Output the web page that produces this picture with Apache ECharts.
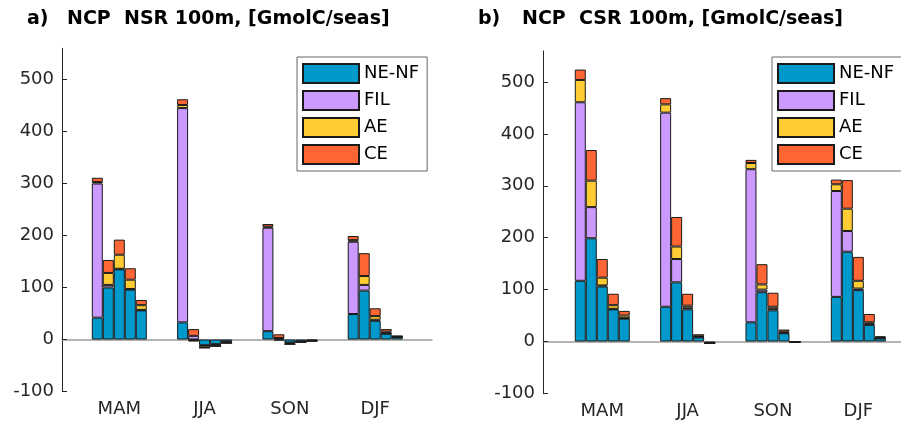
<!DOCTYPE html>
<html>
<head>
<meta charset="utf-8">
<script src="https://cdn.jsdelivr.net/npm/echarts@6/dist/echarts.min.js"></script>
<style>
html,body{margin:0;padding:0;background:#fff;}
#chart{width:901px;height:424px;}
</style>
</head>
<body>
<div id="chart"></div>
<script>
// ---- data ----
const seasons = ['MAM', 'JJA', 'SON', 'DJF'];
const components = ['NE-NF', 'FIL', 'AE', 'CE'];
const yTicks = [-100, 0, 100, 200, 300, 400, 500];
const titleA = 'NCP  NSR 100m, [GmolC/seas]';
const titleB = 'NCP  CSR 100m, [GmolC/seas]';

// Panel a (NSR): per season, 5 bars
const nsrNENF = [[42, 100, 135, 96, 56], [33, -1, -11, -9, -4], [16, -2, -6, -4, -2], [49, 94, 36, 11, 5]];
const nsrFIL  = [[258, 5, 1, 1, 1], [412, 7, -1, -1, -1], [199, 2, -1, 0, 0], [139, 11, 2, 1, 0]];
const nsrAE   = [[3, 23, 27, 18, 9], [6, -3, -4, -3, -2], [2, 1, -2, -1, -1], [3, 17, 7, 3, 1]];
const nsrCE   = [[8, 25, 29, 22, 10], [11, 13, 0, 0, 0], [5, 7, 0, 0, 0], [8, 44, 15, 5, 1]];

// Panel b (CSR)
const csrNENF = [[117, 199, 106, 62, 44], [67, 114, 62, 8, -3], [37, 95, 60, 16, -1], [86, 173, 99, 32, 6]];
const csrFIL  = [[344, 60, 2, 1, 1], [374, 45, 3, 1, 0], [295, 5, 3, 1, 0], [204, 40, 3, 2, 1]];
const csrAE   = [[43, 51, 15, 7, 5], [16, 24, 4, 1, 0], [12, 10, 4, 2, 0], [13, 43, 15, 3, 1]];
const csrCE   = [[20, 59, 36, 22, 9], [12, 57, 23, 4, 0], [6, 39, 27, 4, 0], [9, 55, 46, 16, 2]];

// ---- styling ----
const colors = ['#0099CC', '#CC99FF', '#FFCC33', '#FF6633'];
const txt = '#262626';
const FONT = 'DejaVu Sans';

const panels = [
  { data: [nsrNENF, nsrFIL, nsrAE, nsrCE],
    axisGrid: { left: 62, top: 48.3, width: 370, height: 343.2 },
    barGrid:  { left: 76.65, top: 48.3, width: 341.2, height: 343.2 },
    legendLeft: 297, legendTop: 57 },
  { data: [csrNENF, csrFIL, csrAE, csrCE],
    axisGrid: { left: 543, top: 50.9, width: 366, height: 342.5 },
    barGrid:  { left: 559.6, top: 50.9, width: 342.8, height: 342.5 },
    legendLeft: 772, legendTop: 57 }
];

const grids = [], xAxes = [], yAxes = [], series = [];
panels.forEach((p, pi) => {
  const ag = grids.length;
  grids.push(Object.assign({}, p.axisGrid));
  xAxes.push({
    type: 'value', gridIndex: ag, min: 0, max: 1,
    axisLine: { show: true, onZero: true, lineStyle: { color: '#9a9a9a', width: 1.5 } },
    axisTick: { show: false }, axisLabel: { show: false }, splitLine: { show: false }
  });
  yAxes.push({
    type: 'value', gridIndex: ag, min: -100, max: 560, interval: 100,
    axisLine: { show: true, onZero: false, lineStyle: { color: txt, width: 1 } },
    axisTick: { show: true, inside: true, length: 5, customValues: yTicks, lineStyle: { color: txt } },
    splitLine: { show: false },
    axisLabel: { customValues: yTicks, fontFamily: FONT, fontSize: 18, color: txt, margin: 8 }
  });
  const bg = grids.length;
  grids.push(Object.assign({}, p.barGrid));
  xAxes.push({
    type: 'category', gridIndex: bg, data: seasons,
    axisLine: { show: false, onZero: false }, axisTick: { show: false }, splitLine: { show: false },
    axisLabel: { fontFamily: FONT, fontSize: 18, color: txt, margin: 9 }
  });
  yAxes.push({ type: 'value', gridIndex: bg, min: -100, max: 560, show: false, splitLine: { show: false } });

  for (let j = 0; j < 5; j++) {
    components.forEach((name, c) => {
      series.push({
        type: 'bar',
        name: name,
        xAxisIndex: bg,
        yAxisIndex: bg,
        stack: 'p' + pi + 'b' + j,
        barWidth: 11,
        barGap: '0%',
        animation: false,
        itemStyle: { color: colors[c], borderColor: '#1a1a1a', borderWidth: 1 },
        emphasis: { disabled: true },
        data: seasons.map((s, i) => p.data[c][i][j])
      });
    });
  }
});

const titleStyle = { fontFamily: FONT, fontWeight: 'bold', fontSize: 19, color: '#000' };
const option = {
  backgroundColor: '#fff',
  animation: false,
  textStyle: { fontFamily: FONT },
  title: [
    { text: 'a)', left: 27, top: 10, padding: 0, textStyle: titleStyle },
    { text: titleA, left: 67, top: 10, padding: 0, textStyle: titleStyle },
    { text: 'b)', left: 478, top: 10, padding: 0, textStyle: titleStyle },
    { text: titleB, left: 522, top: 10, padding: 0, textStyle: titleStyle }
  ],
  legend: panels.map(p => ({
    orient: 'vertical',
    left: p.legendLeft, top: p.legendTop,
    data: components,
    itemWidth: 56, itemHeight: 19, itemGap: 6,
    padding: [6, 8, 6, 5],
    borderColor: '#666', borderWidth: 1,
    backgroundColor: '#fff',
    icon: 'rect',
    selectedMode: false,
    textStyle: { fontFamily: FONT, fontSize: 18, color: '#000' }
  })),
  grid: grids,
  xAxis: xAxes,
  yAxis: yAxes,
  series: series
};

const chart = echarts.init(document.getElementById('chart'), null, { renderer: 'canvas' });
chart.setOption(option);
</script>
</body>
</html>
